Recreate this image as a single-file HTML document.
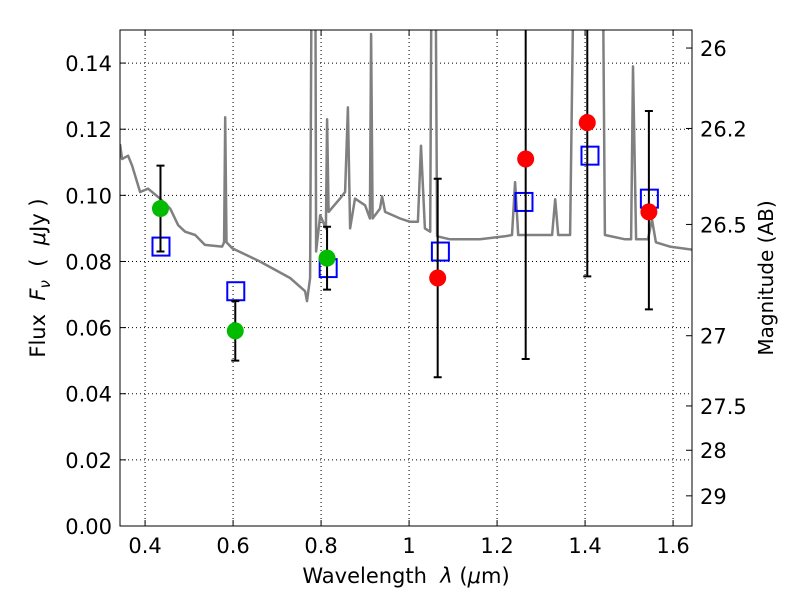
<!DOCTYPE html>
<html><head><meta charset="utf-8"><style>
body{margin:0;background:#fff}
svg text{font-family:"DejaVu Sans","Liberation Sans",sans-serif;fill:#000}
</style></head><body>
<svg id="chart" width="800" height="600" xmlns="http://www.w3.org/2000/svg">
<rect width="800" height="600" fill="#fff"/>
<defs><clipPath id="clip"><rect x="120" y="30" width="572" height="496"/></clipPath></defs>
<g id="grid"></g>
<g id="spec" clip-path="url(#clip)"></g>
<g id="marks" clip-path="url(#clip)"></g>
<rect x="120" y="30" width="572" height="496" fill="none" stroke="#000" stroke-width="1"/>
<g id="axes"></g>
<text x="406" y="583" text-anchor="middle" font-size="21" xml:space="preserve">Wavelength  <tspan font-style="italic">λ</tspan> (<tspan font-style="italic">μ</tspan>m)</text>
<text transform="translate(45,278) rotate(-90)" text-anchor="middle" font-size="21" xml:space="preserve">Flux  <tspan font-style="italic">F</tspan><tspan font-style="italic" font-size="15" dy="5">ν</tspan><tspan dy="-5">  (  </tspan><tspan font-style="italic">μ</tspan>Jy )</text>
<text transform="translate(773,278) rotate(-90)" text-anchor="middle" font-size="20">Magnitude (AB)</text>
</svg>
<script>
const wl=[0.343,0.3477,0.3614,0.3705,0.3886,0.4068,0.434,0.457,0.475,0.491,0.514,0.536,0.575,0.5795,0.582,0.585,0.598,0.661,0.7295,0.7636,0.768,0.775,0.7795,0.7864,0.7886,0.798,0.811,0.8136,0.817,0.843,0.8545,0.861,0.866,0.877,0.900,0.911,0.9136,0.917,0.934,0.9386,0.9455,0.9795,1.002,1.020,1.027,1.036,1.048,1.052,1.059,1.0636,1.093,1.161,1.218,1.234,1.241,1.248,1.325,1.332,1.339,1.366,1.377,1.4386,1.445,1.491,1.5045,1.509,1.5159,1.543,1.552,1.561,1.5925,1.643];
const flux=[0.1155,0.111,0.112,0.109,0.101,0.102,0.099,0.096,0.091,0.089,0.088,0.085,0.0845,0.0858,0.1236,0.0858,0.084,0.080,0.075,0.071,0.068,0.075,0.20,0.20,0.083,0.094,0.090,0.123,0.095,0.099,0.101,0.1266,0.090,0.099,0.097,0.093,0.1488,0.093,0.096,0.0997,0.095,0.093,0.092,0.092,0.115,0.090,0.089,0.20,0.20,0.0876,0.0867,0.0867,0.0876,0.088,0.104,0.088,0.088,0.0988,0.088,0.088,0.20,0.20,0.088,0.0867,0.0867,0.139,0.0867,0.0867,0.0927,0.0858,0.0845,0.0836];
const obsLam=[0.435,0.605,0.8136,1.065,1.265,1.405,1.545];
const obsFlux=[0.096,0.059,0.081,0.075,0.111,0.122,0.095];
const obsErrLow=[0.013,0.009,0.0095,0.030,0.0605,0.0465,0.0295];
const obsErrHigh=[0.013,0.009,0.0095,0.030,0.0605,0.0465,0.0305];
const obsColor=["#00bb00","#00bb00","#00bb00","#ff0000","#ff0000","#ff0000","#ff0000"];
const modLam=[0.435,0.605,0.815,1.07,1.26,1.41,1.545];
const modFlux=[0.0845,0.071,0.078,0.083,0.098,0.112,0.099];
const xTicks=[0.4,0.6,0.8,1.0,1.2,1.4,1.6];
const xTickLabels=["0.4","0.6","0.8","1","1.2","1.4","1.6"];
const yTicks=[0,0.02,0.04,0.06,0.08,0.10,0.12,0.14];
const yTickLabels=["0.00","0.02","0.04","0.06","0.08","0.10","0.12","0.14"];
const magTicks=[26,26.2,26.5,27,27.5,28,29];
const magTickLabels=["26","26.2","26.5","27","27.5","28","29"];

const X0=120,X1=692,Y0=526,Y1=30,xmin=0.343,xmax=1.643,ymin=0,ymax=0.15;
const sx=v=>X0+(v-xmin)/(xmax-xmin)*(X1-X0);
const sy=v=>Y0-(v-ymin)/(ymax-ymin)*(Y0-Y1);
const NS="http://www.w3.org/2000/svg";
function mk(tag,attrs,parent){const e=document.createElementNS(NS,tag);for(const k in attrs)e.setAttribute(k,attrs[k]);document.getElementById(parent).appendChild(e);return e;}

xTicks.forEach((t,i)=>{
  const x=sx(t);
  const g=mk('line',{x1:x,x2:x,y1:Y1,y2:Y0,stroke:'#000','stroke-dasharray':'1,3','stroke-width':1},'grid');
  
  
  mk('line',{x1:x,x2:x,y1:Y0,y2:Y0-6,stroke:'#000'},'axes');
  mk('line',{x1:x,x2:x,y1:Y1,y2:Y1+6,stroke:'#000'},'axes');
  const tx=mk('text',{x:x,y:Y0+27,'text-anchor':'middle','font-size':21},'axes');
  tx.textContent=xTickLabels[i];
  
  
});
yTicks.forEach((t,i)=>{
  const y=sy(t);
  const g=mk('line',{x1:X0,x2:X1,y1:y,y2:y,stroke:'#000','stroke-dasharray':'1,3','stroke-width':1},'grid');
  
  
  mk('line',{x1:X0,x2:X0+6,y1:y,y2:y,stroke:'#000'},'axes');
  const tx=mk('text',{x:X0-8,y:y+8,'text-anchor':'end','font-size':21},'axes');
  tx.textContent=yTickLabels[i];
  
  
});
magTicks.forEach((m,i)=>{
  const y=sy(Math.pow(10,(23.9-m)/2.5));
  mk('line',{x1:X1,x2:X1-6,y1:y,y2:y,stroke:'#000'},'axes');
  const tx=mk('text',{x:X1+8,y:y+8,'text-anchor':'start','font-size':21},'axes');
  tx.textContent=magTickLabels[i];
  
  
});
let d='';for(let i=0;i<wl.length;i++)d+=(i?'L':'M')+sx(wl[i]).toFixed(1)+','+sy(flux[i]).toFixed(1);
const sp=mk('path',{d:d,fill:'none',stroke:'#808080','stroke-width':2.5,'stroke-linejoin':'round'},'spec');


modLam.forEach((l,i)=>{
  const s=mk('rect',{x:sx(l)-8,y:sy(modFlux[i])-9,width:17,height:18,fill:'none',stroke:'#0000ff','stroke-width':2},'marks');
  
  
});
obsLam.forEach((l,i)=>{
  const x=sx(l),yl=sy(obsFlux[i]-obsErrLow[i]),yh=sy(obsFlux[i]+obsErrHigh[i]);
  const e=mk('path',{d:`M${x},${yl}V${yh}M${x-4},${yl}H${x+4}M${x-4},${yh}H${x+4}`,stroke:'#000','stroke-width':2,fill:'none'},'marks');
  
  
  const c=mk('circle',{cx:x,cy:sy(obsFlux[i]),r:8.5,fill:obsColor[i]},'marks');
  
  
});
</script>
</body></html>
